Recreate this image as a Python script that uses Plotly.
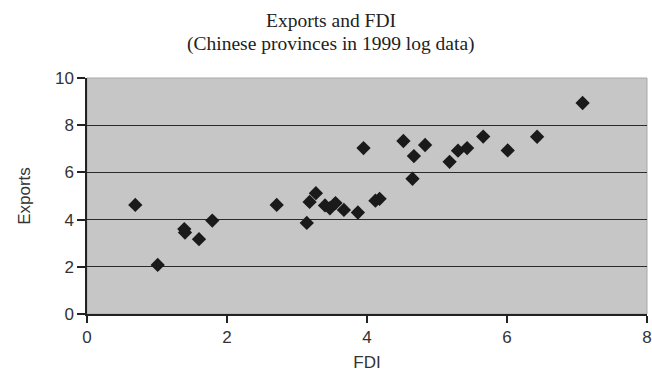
import plotly.graph_objects as go

fdi = [0.69, 1.01, 1.39, 1.40, 1.60, 1.79, 2.71, 3.14, 3.18, 3.27, 3.40, 3.47, 3.55,
       3.67, 3.87, 3.95, 4.12, 4.18, 4.52, 4.65, 4.67, 4.83, 5.18, 5.30, 5.43, 5.66,
       6.01, 6.43, 7.08]
exports = [4.62, 2.08, 3.60, 3.45, 3.17, 3.96, 4.62, 3.86, 4.75, 5.12, 4.60, 4.48, 4.70,
           4.41, 4.30, 7.03, 4.80, 4.88, 7.33, 5.73, 6.69, 7.16, 6.45, 6.92, 7.03, 7.52,
           6.93, 7.51, 8.94]

x_ticks = [0, 2, 4, 6, 8]
y_ticks = [0, 2, 4, 6, 8, 10]

title_main = "Exports and FDI"
title_sub = "(Chinese provinces in 1999 log data)"

serif = "Liberation Serif, Times New Roman, serif"

fig = go.Figure()
fig.add_trace(go.Scatter(
    x=fdi, y=exports, mode="markers",
    marker=dict(symbol="diamond", size=11, color="#1a1a1a", line=dict(width=0)),
    showlegend=False, hoverinfo="skip"))

fig.add_shape(type="rect", xref="paper", yref="paper", x0=0, y0=0, x1=1, y1=1,
              line=dict(color="#a8a8a8", width=1), layer="below")

fig.add_annotation(text=title_sub, xref="paper", yref="paper",
                   x=(331 - 87) / 560, y=1 + (78 - 44) / 236,
                   xanchor="center", yanchor="middle", showarrow=False,
                   font=dict(family=serif, size=19.5, color="#222"))

fig.update_layout(
    width=652, height=376,
    margin=dict(l=87, r=5, t=78, b=62),
    paper_bgcolor="white", plot_bgcolor="#c6c6c6",
    title=dict(
        text=title_main,
        x=331/652, xanchor="center", xref="container",
        y=1 - 20/376, yanchor="middle", automargin=False,
        font=dict(family=serif, size=19.5, color="#222")),
    font=dict(family="Liberation Sans, Arial, sans-serif", size=17, color="#333"),
    xaxis=dict(range=[0, 8], tickvals=x_ticks, showgrid=False, zeroline=False,
               automargin=False,
               showline=True, linecolor="#222", linewidth=1.5,
               ticks="outside", ticklen=7, tickcolor="#222", tickwidth=1.5,
               title=dict(text="FDI", standoff=10, font=dict(size=17))),
    yaxis=dict(range=[0, 10], tickvals=y_ticks, showgrid=True, gridcolor="#2a2a2a",
               gridwidth=1.3, zeroline=False, automargin=False,
               showline=True, linecolor="#222", linewidth=1.5,
               ticks="outside", ticklen=8, tickcolor="#222", tickwidth=1.5,
               title=dict(text="Exports", standoff=20, font=dict(size=17))),
)

fig.write_html("out.html", config={"displayModeBar": False},
               post_script="document.body.style.margin='0';document.body.style.overflow='hidden';")
